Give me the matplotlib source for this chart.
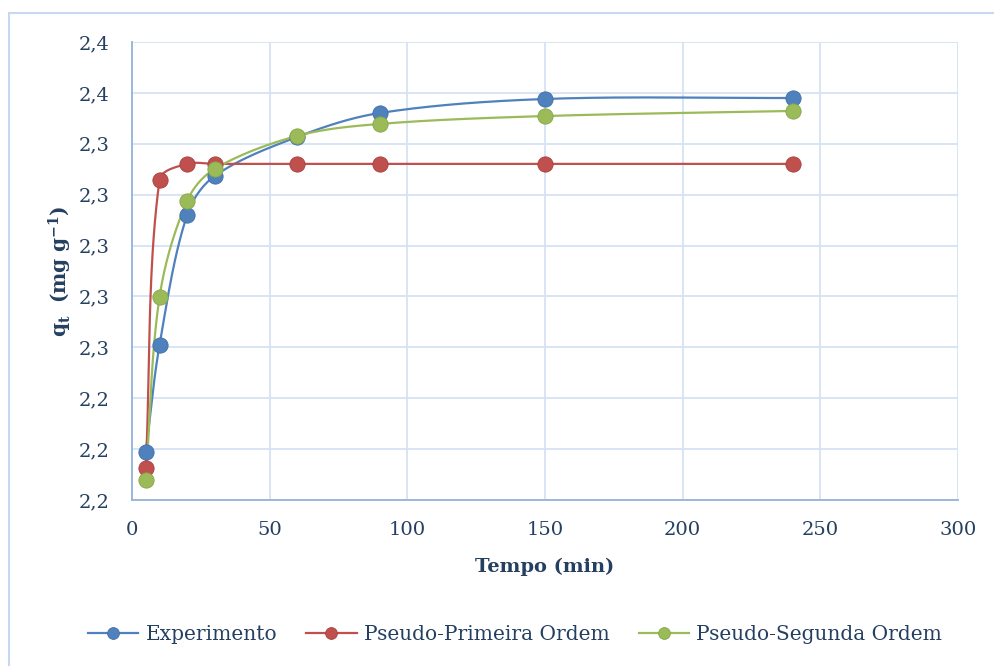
import numpy as np
import matplotlib
matplotlib.use("Agg")
import matplotlib.pyplot as plt
from matplotlib.patches import Rectangle
from matplotlib.lines import Line2D

plt.rcParams['mathtext.fontset'] = 'dejavuserif'

tempo = [5, 10, 20, 30, 60, 90, 150, 240]
experimento = [2.2189, 2.2609, 2.3120, 2.3273, 2.3427, 2.3521, 2.3576, 2.3580]
primeira = [2.2126, 2.3258, 2.3321, 2.3321, 2.3321, 2.3321, 2.3321, 2.3321]
segunda = [2.2079, 2.2798, 2.3175, 2.3301, 2.3431, 2.3478, 2.3509, 2.3529]

yticks = [2.20, 2.22, 2.24, 2.26, 2.28, 2.30, 2.32, 2.34, 2.36, 2.38]
ytick_labels = ['2,2', '2,2', '2,2', '2,3', '2,3', '2,3', '2,3', '2,3', '2,4', '2,4']
xticks = [0, 50, 100, 150, 200, 250, 300]

colors = ['#4F81BD', '#C0504D', '#9BBB59']
edge = ['#3F6FA8', '#A8403D', '#86A64A']
names = ['Experimento', 'Pseudo-Primeira Ordem', 'Pseudo-Segunda Ordem']
text_color = '#243F60'
font = ['DejaVu Serif']


def excel_smooth(ax, x, y, n=40):
    P = ax.transData.transform(np.column_stack([x, y]))
    m = len(P)
    out = []
    for i in range(m - 1):
        p0 = P[i - 1] if i > 0 else P[i]
        p1 = P[i]
        p2 = P[i + 1]
        p3 = P[i + 2] if i + 2 < m else P[i + 1]
        d01 = np.linalg.norm(p1 - p0)
        d12 = np.linalg.norm(p2 - p1)
        d23 = np.linalg.norm(p3 - p2)
        c1 = p1 + (p2 - p0) * (d12 / (d01 + d12)) / 3.0
        c2 = p2 - (p3 - p1) * (d12 / (d12 + d23)) / 3.0
        t = np.linspace(0, 1, n)[:, None]
        seg = ((1 - t) ** 3) * p1 + 3 * ((1 - t) ** 2) * t * c1 + 3 * (1 - t) * t ** 2 * c2 + t ** 3 * p2
        out.append(seg if i == 0 else seg[1:])
    s = ax.transData.inverted().transform(np.vstack(out))
    return s[:, 0], s[:, 1]


fig = plt.figure(figsize=(9.94, 6.66), dpi=100)
fig.patches.append(Rectangle((9 / 994, -0.05), 1.2, 1.05 - 13 / 666, transform=fig.transFigure,
                             fill=False, edgecolor='#C6D9F1', linewidth=1.5))

ax = fig.add_axes([132 / 994, 1 - 500 / 666, (958 - 132) / 994, (500 - 42) / 666])
ax.set_xlim(0, 300)
ax.set_ylim(2.20, 2.38)
ax.set_xticks(xticks)
ax.set_yticks(yticks)
ax.set_yticklabels(ytick_labels)
ax.grid(True, color='#D6E3F3', linewidth=1.3)
ax.set_axisbelow(True)
for side in ['top', 'right']:
    ax.spines[side].set_visible(False)
for side in ['left', 'bottom']:
    ax.spines[side].set_color('#95B3D7')
    ax.spines[side].set_linewidth(1.3)
ax.tick_params(length=0, colors=text_color, labelsize=14)
ax.tick_params(axis='x', pad=15)
ax.tick_params(axis='y', pad=16)
for lab in ax.get_xticklabels() + ax.get_yticklabels():
    lab.set_family(font)
    lab.set_color(text_color)

series = [experimento, primeira, segunda]
for vals, c, e in zip(series, colors, edge):
    sx, sy = excel_smooth(ax, tempo, vals)
    ax.plot(sx, sy, color=c, linewidth=1.6, zorder=3, clip_on=False)
    ax.plot(tempo, vals, linestyle='none', marker='o', markersize=11,
            markerfacecolor=c, markeredgecolor=e, markeredgewidth=0.6, zorder=4, clip_on=False)

xl = ax.set_xlabel('Tempo (min)', fontsize=14, fontweight='bold', color=text_color, family=font)
ax.xaxis.set_label_coords(0.5, (500 - 567) / 458)
xl.set_verticalalignment('center')
yl = ax.set_ylabel(r'$\mathbf{q_t}$  $\mathbf{(mg\ g^{-1})}$', fontsize=14.5,
                   color=text_color)
ax.yaxis.set_label_coords((60 - 132) / 826, 0.5)
yl.set_verticalalignment('center')

handles = [Line2D([0], [0], color=c, linewidth=1.6, marker='o', markersize=8.5,
                  markerfacecolor=c, markeredgecolor=e, markeredgewidth=0.6) for c, e in zip(colors, edge)]
leg = fig.legend(handles, names, loc='center', bbox_to_anchor=(515 / 994, 1 - 635 / 666),
                 ncol=3, frameon=False, handlelength=2.5, columnspacing=1.45, handletextpad=0.36,
                 prop={'family': font, 'size': 14.5})
for t in leg.get_texts():
    t.set_color(text_color)

fig.savefig('out.png', dpi=100)
